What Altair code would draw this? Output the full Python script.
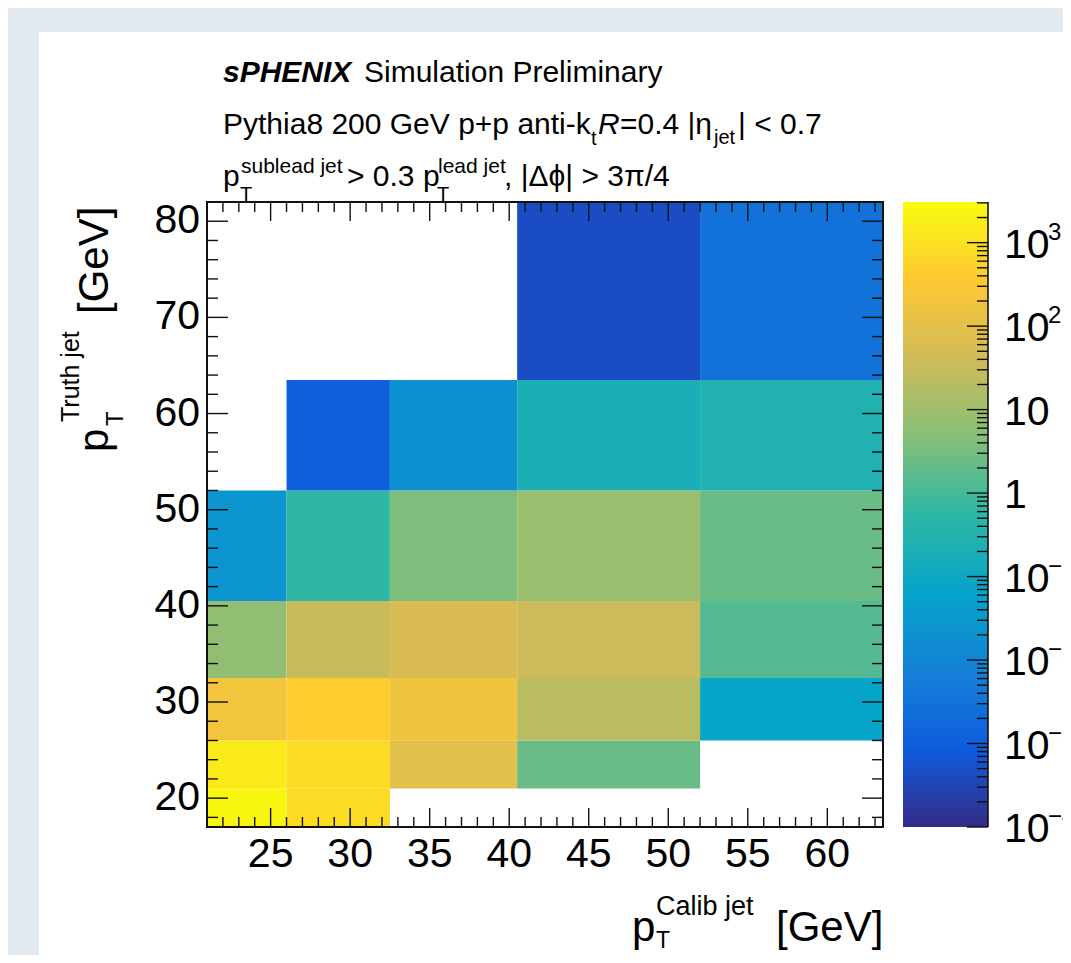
import math
import altair as alt
import pandas as pd

FONT = "Liberation Sans"

# ---------------- data ----------------
x_edges = [21, 26, 32.5, 40.5, 52, 63.5]          # p_T calib jet bin edges
y_edges = [17, 21, 26, 32.5, 40.5, 52, 63.5, 82]  # p_T truth jet bin edges

# bin contents, one list per truth-jet row (bottom to top); None = empty bin
row_17_21 = [2570, 790, None, None, None]
row_21_26 = [1480, 828, 90, 2.3, None]
row_26_32 = [208, 423, 170, 21, 0.068]
row_32_40 = [6.6, 33, 61, 35, 1.38]
row_40_52 = [0.026, 0.55, 3.85, 8.7, 2.3]
row_52_63 = [None, 0.0011, 0.0195, 0.197, 0.27]
row_63_82 = [None, None, None, 0.00045, 0.0031]
rows = [row_17_21, row_21_26, row_26_32, row_32_40, row_40_52, row_52_63, row_63_82]

x_major = [25, 30, 35, 40, 45, 50, 55, 60]
x_minor = [v for v in range(22, 64) if v % 5 != 0]
y_major = [20, 30, 40, 50, 60, 70, 80]
y_minor = [v for v in range(18, 82, 2) if v % 10 != 0]

z_min, z_max = 1e-4, 3070
cbar_major = [1e3, 1e2, 1e1, 1, 1e-1, 1e-2, 1e-3, 1e-4]
cbar_base = ["10", "10", "10", "1", "10", "10", "10", "10"]
cbar_exp = ["3", "2", "", "", "\u22121", "\u22122", "\u22123", "\u22124"]
cbar_minor = [k * 10.0 ** d for d in range(-4, 4) for k in range(2, 10) if k * 10.0 ** d <= z_max]

# ROOT kBird palette
parula = ["#352a87", "#0f5cdd", "#1481d6", "#06a4ca", "#2eb7a4",
          "#87bf77", "#d1bb59", "#fec832", "#f9fb0e"]

# ---------------- tables ----------------
cells = []
for j, row in enumerate(rows):
    for i, v in enumerate(row):
        if v is not None:
            cells.append({"x0": x_edges[i], "x1": x_edges[i + 1],
                          "y0": y_edges[j], "y1": y_edges[j + 1], "z": v})
cells = pd.DataFrame(cells)

W, H = 676, 625
one = pd.DataFrame({"k": [0]})

xs = alt.Scale(domain=[21, 63.5], nice=False, zero=False)
ys = alt.Scale(domain=[17, 82], nice=False, zero=False)
lg_lo, lg_hi = math.log10(z_min), math.log10(z_max)
cdom = [10 ** (lg_lo + i * (lg_hi - lg_lo) / 8) for i in range(9)]
cscale = alt.Scale(type="log", domain=cdom, range=parula, interpolate="rgb")

# ---------------- helpers ----------------
def txt(s, x, y, size, angle=0, **kw):
    return alt.Chart(one).mark_text(
        text=s, align="left", baseline="alphabetic", font=FONT,
        fontSize=size, color="black", angle=angle, **kw
    ).encode(x=alt.value(x), y=alt.value(y))

def vrule(df, x0, x1, strokeWidth=1.4):
    return alt.Chart(df).mark_rule(color="#111", strokeWidth=strokeWidth).encode(
        y=alt.Y("v:Q", scale=ys, axis=None), x=alt.value(x0), x2=alt.value(x1))

def hrule(df, y0, y1, strokeWidth=1.4):
    return alt.Chart(df).mark_rule(color="#111", strokeWidth=strokeWidth).encode(
        x=alt.X("v:Q", scale=xs, axis=None), y=alt.value(y0), y2=alt.value(y1))

# ---------------- layers ----------------
panel = alt.Chart(one).mark_rect(color="white").encode(
    x=alt.value(-168), x2=alt.value(860), y=alt.value(-170), y2=alt.value(760))

heat = alt.Chart(cells).mark_rect(strokeWidth=0).encode(
    x=alt.X("x0:Q", scale=xs, axis=None), x2="x1:Q",
    y=alt.Y("y0:Q", scale=ys, axis=None), y2="y1:Q",
    color=alt.Color("z:Q", scale=cscale, legend=None),
)

frame = alt.Chart(one).mark_rect(fill=None, stroke="#111", strokeWidth=2).encode(
    x=alt.value(0), x2=alt.value(W), y=alt.value(0), y2=alt.value(H))

xM = pd.DataFrame({"v": x_major})
xm = pd.DataFrame({"v": x_minor})
yM = pd.DataFrame({"v": y_major})
ym = pd.DataFrame({"v": y_minor})

ticks = [
    hrule(xM, H, H - 19), hrule(xm, H, H - 10),
    hrule(xM, 0, 19), hrule(xm, 0, 10),
    vrule(yM, 0, 21), vrule(ym, 0, 11),
    vrule(yM, W, W - 21), vrule(ym, W, W - 11),
]

xlab = alt.Chart(pd.DataFrame({"v": x_major, "t": [str(v) for v in x_major]})).mark_text(
    font=FONT, fontSize=41, align="center", baseline="top", color="black").encode(
    x=alt.X("v:Q", scale=xs, axis=None), y=alt.value(H + 8), text="t:N")
ylab = alt.Chart(pd.DataFrame({"v": y_major, "t": [str(v) for v in y_major]})).mark_text(
    font=FONT, fontSize=41, align="right", baseline="middle", color="black").encode(
    y=alt.Y("v:Q", scale=ys, axis=None), x=alt.value(-7), text="t:N")

texts = [
    txt("sPHENIX", 16, -120, 30, fontStyle="italic", fontWeight="bold"),
    txt("Simulation Preliminary", 157, -120, 30),
    # line 2
    txt("Pythia8 200 GeV p+p anti-k", 16, -68, 30),
    txt("t", 384, -57, 20),
    txt("R", 391, -68, 30, fontStyle="italic"),
    txt("=0.4 |\u03b7", 413, -68, 30),
    txt("jet", 507, -58, 20),
    txt("| < 0.7", 531, -68, 30),
    # line 3
    txt("p", 16, -16, 30),
    txt("sublead jet", 34, -29, 21),
    txt("T", 33, -1, 20),
    txt("> 0.3 p", 140, -16, 30),
    txt("lead jet", 231, -29, 21),
    txt("T", 230, -1, 20),
    txt(", |\u0394\u03d5| > 3\u03c0/4", 297, -16, 30),
    # y title (rotated)
    txt("p", -99, 250, 42, angle=270),
    txt("Truth jet", -128, 220, 25, angle=270),
    txt("T", -84, 224, 24, angle=270),
    txt("[GeV]", -99, 112, 42, angle=270),
    # x title
    txt("p", 425, 739, 42),
    txt("Calib jet", 449, 713, 27),
    txt("T", 449, 746, 23),
    txt("[GeV]", 569, 739, 42),
]

main = alt.layer(panel, heat, *ticks, frame, xlab, ylab, *texts)

# ---------------- colour bar ----------------
CB0, CB1 = 696, 781
cys = alt.Scale(type="log", domain=[z_min, z_max], nice=False)
grad = alt.LinearGradient(
    gradient="linear",
    stops=[alt.GradientStop(color=c, offset=i / 8) for i, c in enumerate(parula)],
    x1=0, x2=0, y1=1, y2=0)
cbar_rect = alt.Chart(one).mark_rect(fill=grad).encode(
    x=alt.value(CB0), x2=alt.value(CB1), y=alt.value(0), y2=alt.value(H))
cbar_line = alt.Chart(one).mark_rule(color="#111", strokeWidth=1.6).encode(
    x=alt.value(CB1), y=alt.value(0), y2=alt.value(H))
cM = pd.DataFrame({"v": cbar_major, "b": cbar_base, "e": cbar_exp})
cm = pd.DataFrame({"v": cbar_minor})
cb_major = alt.Chart(cM).mark_rule(color="#111", strokeWidth=1.4).encode(
    y=alt.Y("v:Q", scale=cys, axis=None), x=alt.value(CB1 - 21), x2=alt.value(CB1))
cb_minor = alt.Chart(cm).mark_rule(color="#111", strokeWidth=1.4).encode(
    y=alt.Y("v:Q", scale=cys, axis=None), x=alt.value(CB1 - 11), x2=alt.value(CB1))
cb_lab = alt.Chart(cM).mark_text(font=FONT, fontSize=41, align="left",
                                 baseline="alphabetic", dy=15, color="black").encode(
    y=alt.Y("v:Q", scale=cys, axis=None), x=alt.value(797), text="b:N")
cb_exp = alt.Chart(cM).mark_text(font=FONT, fontSize=24, align="left",
                                 baseline="alphabetic", dy=-3, color="black").encode(
    y=alt.Y("v:Q", scale=cys, axis=None), x=alt.value(841), text="e:N")
cbar = alt.layer(cbar_rect, cb_minor, cb_major, cbar_line, cb_lab, cb_exp)

chart = alt.layer(main, cbar).resolve_scale(y="independent").properties(
    width=W, height=H,
    autosize=alt.AutoSizeParams(type="none"),
    padding={"left": 199, "top": 194, "right": 180, "bottom": 128},
).configure(background="#e3e9f0").configure_view(stroke=None)

chart.save("out.html", embed_options={"renderer": "svg", "actions": False})
